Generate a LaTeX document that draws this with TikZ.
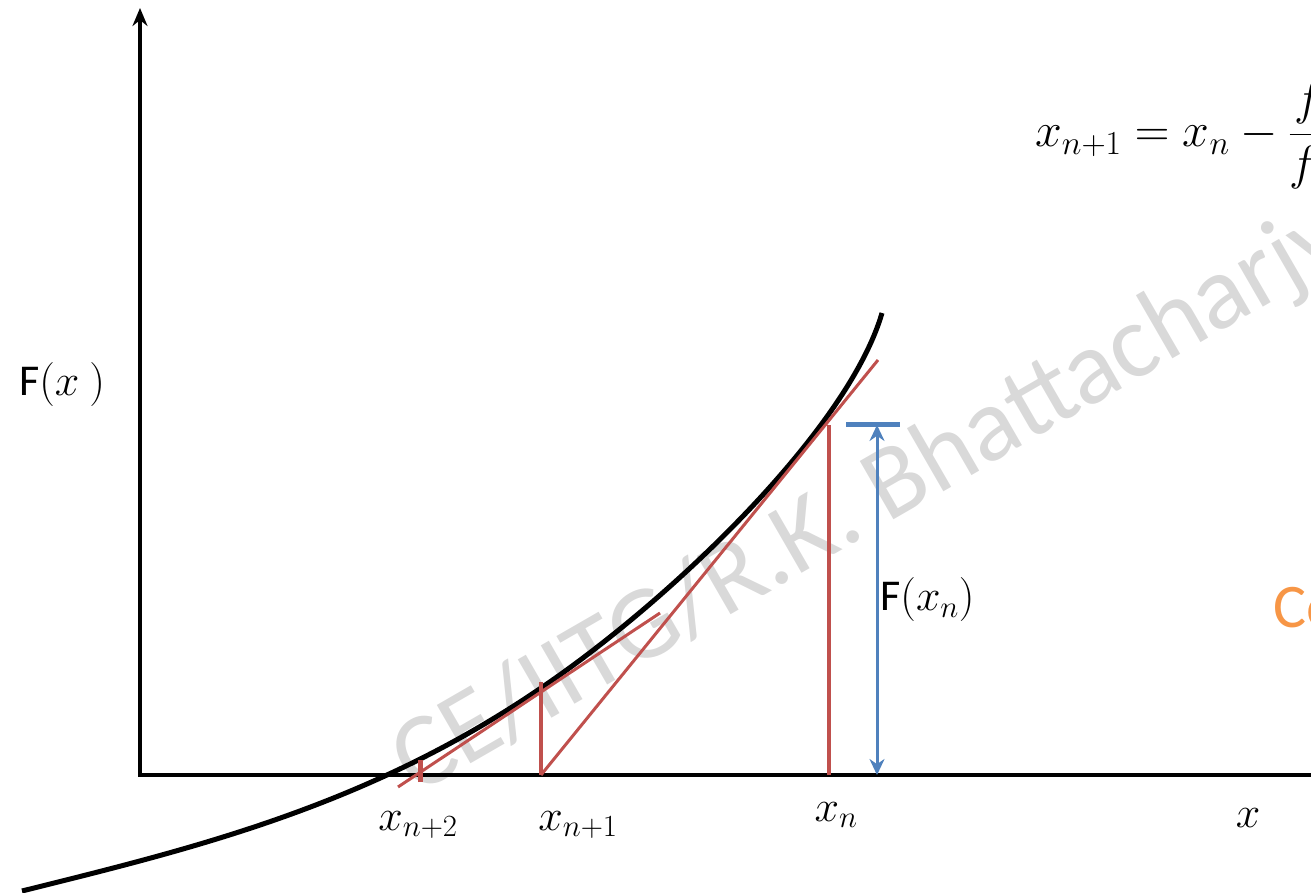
\RequirePackage{fix-cm}
\documentclass[tikz,border=0pt]{standalone}
\usepackage{amsmath}
\usepackage{fontspec}
\setmainfont{Carlito}
\usetikzlibrary{arrows.meta}
\definecolor{tanred}{HTML}{C0504D}
\definecolor{fblue}{HTML}{4F81BD}
\definecolor{noteorange}{HTML}{F79646}
\definecolor{markgray}{HTML}{D9D9D9}

\begin{document}
\begin{tikzpicture}[x=1pt,y=1pt,font=\fontsize{44}{52}\selectfont,
  >={Stealth[length=18pt,width=15pt]},
  axis/.style={line width=4pt,line join=miter},
  tangent/.style={tanred,line width=3pt},
  ordinate/.style={tanred,line width=4pt},
  fxn/.style={fblue,line width=3pt,{Stealth[length=16pt,width=15pt]}-{Stealth[length=16pt,width=15pt]}}]
  \useasboundingbox (0,0) rectangle (1311,892);
  \clip (0,0) rectangle (1311,892);
  % watermark behind everything
  \node[markgray,font=\fontsize{105}{112}\selectfont,rotate=30,anchor=base west,inner sep=0pt]
    (mark) at (416,96) {CE/IITG/R.K. Bhattacharjya};
  % axes
  \coordinate (O) at (140,117);
  \coordinate (ytop) at (140,884);
  \coordinate (xend) at (1335,117);
  \draw[axis,<->] (ytop) -- (O) -- (xend);
  % the function
  \coordinate (c0) at (22,1);
  \coordinate (c1) at (541,204);
  \coordinate (c2) at (882,579);
  \draw[line width=5pt] (c0) .. controls (195,44) and (368,86) .. (c1)
    .. controls (671,292) and (848,462) .. (c2);
  % Newton steps
  \coordinate (xn) at (829,117);
  \coordinate (Fxn) at (829,467);
  \coordinate (t1end) at (878,532);
  \coordinate (xn1) at (541,117);
  \coordinate (Fxn1) at (541,210);
  \coordinate (t2start) at (398,105);
  \coordinate (t2end) at (660,279);
  \coordinate (xn2lo) at (420,110);
  \coordinate (xn2hi) at (420,132);
  \draw[ordinate] (xn) -- (Fxn);
  \draw[tangent] (xn1) -- (t1end);
  \draw[ordinate] (xn1) -- (Fxn1);
  \draw[tangent] (t2start) -- (t2end);
  \draw[tanred,line width=5pt] (xn2lo) -- (xn2hi);
  % height F(x_n)
  \coordinate (barL) at (846,467);
  \coordinate (barR) at (900,467);
  \coordinate (arTop) at (877,467);
  \coordinate (arBot) at (877,117);
  \draw[fblue,line width=5pt] (barL) -- (barR);
  \draw[fxn] (arTop) -- (arBot);
  % labels
  \node (lxn2) at (418,67) {$x_{n+2}$};
  \node (lxn1) at (578,67) {$x_{n+1}$};
  \node (lxn) at (836,77) {$x_n$};
  \node (lx) at (1248,74) {$x$};
  \node (lFx) at (62,507) {F$(x\ )$};
  \node[anchor=west,inner sep=0pt] (lFxn) at (880,292) {F$(x_n)$};
  \node[font=\fontsize{48}{56}\selectfont,anchor=base west,inner sep=0pt] (newton) at (1035,745)
    {$x_{n+1}=x_n-\dfrac{f(x_n)}{f'(x_n)}$};
  \node[noteorange,font=\fontsize{62}{70}\selectfont,anchor=base west,inner sep=0pt]
    (note) at (1273,265) {Co};
\end{tikzpicture}
\end{document}
